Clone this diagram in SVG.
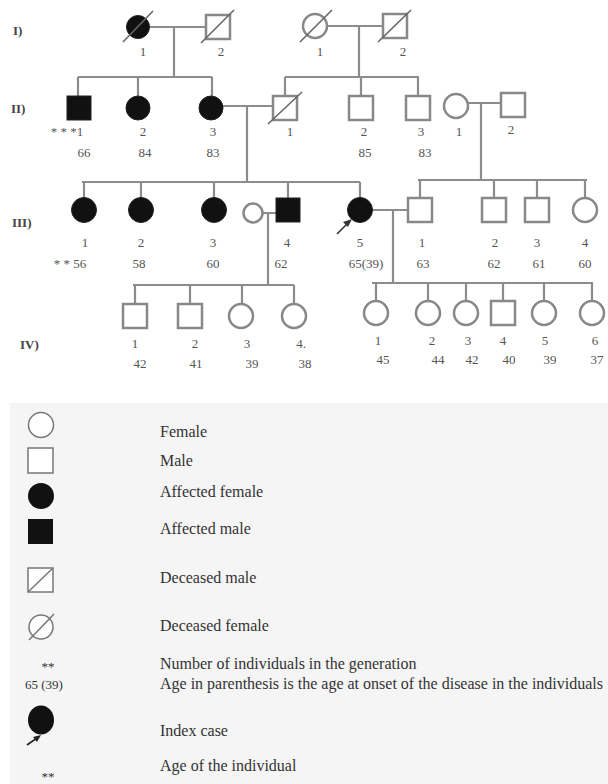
<svg xmlns="http://www.w3.org/2000/svg" width="608" height="784" viewBox="0 0 608 784">
<style>
.o{fill:#fff;stroke:#888;stroke-width:2.5}
.f{fill:#111;stroke:#222;stroke-width:1}
.s{stroke:#666;stroke-width:1.6;fill:none}
.l{stroke:#8c8c8c;stroke-width:2.2;fill:none}
.t{font-family:"Liberation Serif",serif;font-size:13px;fill:#555;text-anchor:middle}
.g{font-family:"Liberation Serif",serif;font-size:13px;fill:#444;font-weight:bold}
.lg{font-family:"Liberation Serif",serif;font-size:16px;fill:#333}
.lo{fill:#fff;stroke:#777;stroke-width:1.5}
</style>
<rect x="0" y="0" width="608" height="784" fill="#fff"/>
<rect x="10" y="403" width="598" height="381" fill="#f5f5f5"/>

<g id="gen-labels">
<text class="g" x="13" y="35">I)</text>
<text class="g" x="11" y="113">II)</text>
<text class="g" x="12" y="227">III)</text>
<text class="g" x="20" y="349">IV)</text>
</g>

<g id="connectors">
<path class="l" d="M150 27H206M174 27V77M78 77H212M78 77V96M138 77V96M212 77V96"/>
<path class="l" d="M327 26H383M359 26V77M285 77H419M285 77V96M361 77V96M418 77V96"/>
<path class="l" d="M223 106H273M247 106V182M82 182H360M84 182V198M141 182V198M214 182V198M288 182V198M360 182V198"/>
<path class="l" d="M468 103H501M481 103V180M418 180H587M420 180V198M494 180V198M537 180V198M585 180V198"/>
<path class="l" d="M262 213H276M268 213V285M133 285H294M135 285V304M190 285V304M242 285V304M294 285V304"/>
<path class="l" d="M372 210H408M393 210V283M372 283H593M376 283V301M428 283V301M466 283V301M503 283V301M544 283V301M592 283V301"/>
</g>

<g id="I-1"><circle class="f" cx="138" cy="27" r="11.5"/><path class="s" d="M123 42L153 11"/><text class="t" x="143" y="56">1</text></g>
<g id="I-2"><rect class="o" x="206" y="15" width="24" height="24"/><path class="s" d="M201 43L234 10"/><text class="t" x="221" y="56">2</text></g>
<g id="I-3"><circle class="o" cx="315" cy="26" r="12"/><path class="s" d="M300 42L332 10"/><text class="t" x="320" y="56">1</text></g>
<g id="I-4"><rect class="o" x="383" y="14" width="24" height="24"/><path class="s" d="M378 42L411 10"/><text class="t" x="403" y="56">2</text></g>

<g id="II-1"><rect class="f" x="67" y="96" width="24" height="24"/><text class="t" x="67" y="136">* * *1</text><text class="t" x="84" y="157">66</text></g>
<g id="II-2"><circle class="f" cx="138" cy="108" r="12"/><text class="t" x="143" y="136">2</text><text class="t" x="145" y="157">84</text></g>
<g id="II-3"><circle class="f" cx="211" cy="108" r="12"/><text class="t" x="213" y="136">3</text><text class="t" x="213" y="157">83</text></g>
<g id="II-4"><rect class="o" x="273" y="96" width="24" height="24"/><path class="s" d="M268 124L302 92"/><text class="t" x="290" y="136">1</text></g>
<g id="II-5"><rect class="o" x="349" y="96" width="24" height="24"/><text class="t" x="364" y="136">2</text><text class="t" x="365" y="157">85</text></g>
<g id="II-6"><rect class="o" x="406" y="96" width="24" height="24"/><text class="t" x="421" y="136">3</text><text class="t" x="425" y="157">83</text></g>
<g id="II-7"><circle class="o" cx="456" cy="106" r="12"/><text class="t" x="459" y="136">1</text></g>
<g id="II-8"><rect class="o" x="501" y="93" width="24" height="24"/><text class="t" x="511" y="134">2</text></g>

<g id="III-1"><circle class="f" cx="84" cy="210" r="12.5"/><text class="t" x="85" y="247">1</text><text class="t" x="70" y="268">* * 56</text></g>
<g id="III-2"><circle class="f" cx="141" cy="210" r="12.5"/><text class="t" x="141" y="247">2</text><text class="t" x="139" y="268">58</text></g>
<g id="III-3"><circle class="f" cx="214" cy="210" r="12.5"/><text class="t" x="213" y="247">3</text><text class="t" x="213" y="268">60</text></g>
<g id="III-sp"><circle class="o" cx="253" cy="213" r="9.5"/></g>
<g id="III-4"><rect class="f" x="276" y="198" width="24" height="24"/><text class="t" x="287" y="247">4</text><text class="t" x="281" y="268">62</text></g>
<g id="III-5"><circle class="f" cx="360" cy="210" r="12.5"/><path d="M337 234L349 222" stroke="#333" stroke-width="1.6"/><path d="M352 219L343 222L348 227Z" fill="#333"/><text class="t" x="360" y="247">5</text><text class="t" x="366" y="268">65(39)</text></g>
<g id="III-6"><rect class="o" x="408" y="198" width="24" height="24"/><text class="t" x="422" y="247">1</text><text class="t" x="423" y="268">63</text></g>
<g id="III-7"><rect class="o" x="482" y="198" width="24" height="24"/><text class="t" x="495" y="247">2</text><text class="t" x="494" y="268">62</text></g>
<g id="III-8"><rect class="o" x="525" y="198" width="24" height="24"/><text class="t" x="537" y="247">3</text><text class="t" x="539" y="268">61</text></g>
<g id="III-9"><circle class="o" cx="585" cy="210" r="12"/><text class="t" x="585" y="247">4</text><text class="t" x="585" y="268">60</text></g>

<g id="IV-1"><rect class="o" x="123" y="304" width="24" height="24"/><text class="t" x="135" y="348">1</text><text class="t" x="140" y="368">42</text></g>
<g id="IV-2"><rect class="o" x="178" y="304" width="24" height="24"/><text class="t" x="195" y="348">2</text><text class="t" x="196" y="368">41</text></g>
<g id="IV-3"><circle class="o" cx="241" cy="316" r="12"/><text class="t" x="247" y="348">3</text><text class="t" x="252" y="368">39</text></g>
<g id="IV-4"><circle class="o" cx="294" cy="316" r="12"/><text class="t" x="301" y="348">4.</text><text class="t" x="305" y="368">38</text></g>
<g id="IV-5"><circle class="o" cx="376" cy="313" r="12"/><text class="t" x="378" y="345">1</text><text class="t" x="383" y="364">45</text></g>
<g id="IV-6"><circle class="o" cx="428" cy="313" r="12"/><text class="t" x="432" y="345">2</text><text class="t" x="438" y="364">44</text></g>
<g id="IV-7"><circle class="o" cx="466" cy="313" r="12"/><text class="t" x="468" y="345">3</text><text class="t" x="472" y="364">42</text></g>
<g id="IV-8"><rect class="o" x="491" y="301" width="24" height="24"/><text class="t" x="503" y="345">4</text><text class="t" x="509" y="364">40</text></g>
<g id="IV-9"><circle class="o" cx="544" cy="313" r="12"/><text class="t" x="545" y="345">5</text><text class="t" x="550" y="364">39</text></g>
<g id="IV-10"><circle class="o" cx="592" cy="313" r="12"/><text class="t" x="595" y="345">6</text><text class="t" x="597" y="364">37</text></g>

<g id="legend">
<circle class="lo" cx="41" cy="425" r="12.5"/>
<text class="lg" x="160" y="437">Female</text>
<rect class="lo" x="28" y="448" width="25" height="25"/>
<text class="lg" x="160" y="466">Male</text>
<circle fill="#111" cx="41" cy="496" r="13"/>
<text class="lg" x="160" y="497">Affected female</text>
<rect fill="#111" x="28" y="519" width="25" height="25"/>
<text class="lg" x="160" y="534">Affected male</text>
<rect class="lo" x="28" y="568" width="25" height="24"/><path d="M28 592L53 568" stroke="#777" stroke-width="1.5"/>
<text class="lg" x="160" y="583">Deceased male</text>
<circle class="lo" cx="41" cy="627" r="12"/><path d="M29 640L54 614" stroke="#777" stroke-width="1.5"/>
<text class="lg" x="160" y="631">Deceased female</text>
<text class="lg" x="48" y="671" text-anchor="middle" style="font-size:13px">**</text>
<text class="lg" x="160" y="669">Number of individuals in the generation</text>
<text class="lg" x="25" y="689" style="font-size:13px">65 (39)</text>
<text class="lg" x="160" y="689">Age in parenthesis is the age at onset of the disease in the individuals</text>
<ellipse fill="#111" cx="41" cy="720" rx="13" ry="14.5"/><path d="M27 745L37 738" stroke="#222" stroke-width="1.6"/><path d="M41 735L33 737L37 742Z" fill="#222"/>
<text class="lg" x="160" y="736">Index case</text>
<text class="lg" x="160" y="771">Age of the individual</text>
<text class="lg" x="48" y="781" text-anchor="middle" style="font-size:13px">**</text>
</g>
</svg>
